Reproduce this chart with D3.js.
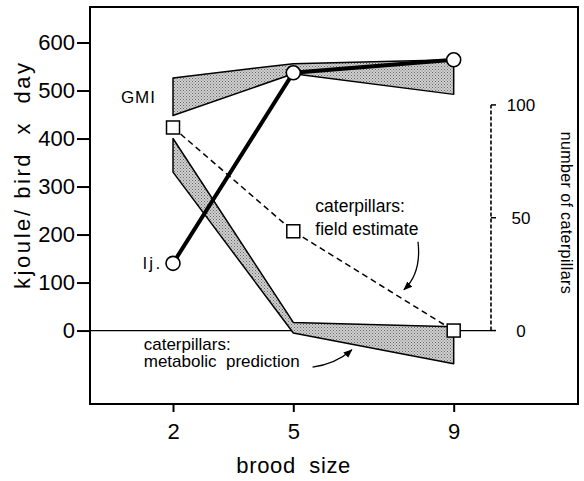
<!DOCTYPE html>
<html>
<head>
<meta charset="utf-8">
<script src="https://cdn.jsdelivr.net/npm/d3@7"></script>
<style>
  html, body { margin: 0; padding: 0; background: #fff; }
  svg { display: block; font-family: "Liberation Sans", Arial, Helvetica, sans-serif; }
</style>
</head>
<body>
<svg id="chart" width="584" height="481"></svg>
<script>
// ---------- data ----------
const broodSizes   = [2, 5, 9];
const ijValues     = [140, 537, 564];          // kJ/bird x day
const gmiUpper     = [526, 556, 564];
const gmiLower     = [448, 535, 492];
const metabUpper   = [400, 17, 8];
const metabLower   = [330, -5, -69];
const fieldEstimate = [90, 44, 0];             // number of caterpillars
const yTicks       = [0, 100, 200, 300, 400, 500, 600];
const xTicks       = [2, 5, 9];
const rightTicks   = [0, 50, 100];

// ---------- layout ----------
const svg = d3.select("#chart");
const frame = {left: 90, right: 578, top: 7, bottom: 404};
const x = d3.scaleLinear().domain([-0.07, 12.1]).range([frame.left, frame.right]);
const y = d3.scaleLinear().domain([-153, 674]).range([frame.bottom, frame.top]);
const y2 = d3.scaleLinear().domain([0, 100]).range([y(0), y(470)]);

const defs = svg.append("defs");
const pat = defs.append("pattern").attr("id", "stipple")
  .attr("width", 3).attr("height", 3).attr("patternUnits", "userSpaceOnUse");
pat.append("rect").attr("width", 3).attr("height", 3).attr("fill", "#d0d0d0");
pat.append("rect").attr("x", 0).attr("y", 0).attr("width", 1).attr("height", 1).attr("fill", "#666");
pat.append("rect").attr("x", 1.5).attr("y", 1.5).attr("width", 1).attr("height", 1).attr("fill", "#777");
defs.append("marker").attr("id", "arrow").attr("viewBox", "0 0 10 10")
  .attr("refX", 9).attr("refY", 5).attr("markerWidth", 9).attr("markerHeight", 9)
  .attr("markerUnits", "userSpaceOnUse").attr("orient", "auto")
  .append("path").attr("d", "M0,1 L10,5 L0,9 Z").attr("fill", "#000");

// frame
svg.append("rect")
  .attr("x", frame.left).attr("y", frame.top)
  .attr("width", frame.right - frame.left).attr("height", frame.bottom - frame.top)
  .attr("fill", "none").attr("stroke", "#000").attr("stroke-width", 2);

// left axis
const yAxis = svg.append("g").attr("transform", `translate(${frame.left},0)`)
  .call(d3.axisLeft(y).tickValues(yTicks).tickSize(13).tickPadding(2).tickFormat(d3.format("d")));
yAxis.select(".domain").remove();
yAxis.selectAll("line").attr("stroke", "#000").attr("stroke-width", 2);
yAxis.selectAll("text").attr("font-size", 22).attr("fill", "#000")
  .attr("font-family", "Liberation Sans, Arial, sans-serif");

// bottom axis
const xAxis = svg.append("g").attr("transform", `translate(0,${frame.bottom})`)
  .call(d3.axisBottom(x).tickValues(xTicks).tickSize(8).tickPadding(11).tickFormat(d3.format("d")));
xAxis.select(".domain").remove();
xAxis.selectAll("line").attr("stroke", "#000").attr("stroke-width", 2);
xAxis.selectAll("text").attr("font-size", 22).attr("fill", "#000")
  .attr("font-family", "Liberation Sans, Arial, sans-serif");

// zero line
svg.append("line")
  .attr("x1", frame.left).attr("x2", x(9.93))
  .attr("y1", y(0)).attr("y2", y(0))
  .attr("stroke", "#000").attr("stroke-width", 1.3);

// right dashed axis
const rx = x(9.93);
svg.append("line").attr("x1", rx).attr("x2", rx)
  .attr("y1", y2(0)).attr("y2", y2(100))
  .attr("stroke", "#000").attr("stroke-width", 1.6).attr("stroke-dasharray", "4,2");
svg.selectAll(".rtick").data(rightTicks).join("line")
  .attr("x1", rx).attr("x2", rx + 5)
  .attr("y1", d => y2(d)).attr("y2", d => y2(d))
  .attr("stroke", "#000").attr("stroke-width", 1.5);
svg.selectAll(".rlab").data(rightTicks).join("text")
  .attr("x", rx + 30).attr("y", d => y2(d)).attr("dy", "0.35em")
  .attr("text-anchor", "middle").attr("font-size", 17).text(d => d);

// bands
const band = (up, lo) => {
  const pts = broodSizes.map((b, i) => [x(b), y(up[i])])
    .concat(broodSizes.map((b, i) => [x(b), y(lo[i])]).reverse());
  return d3.line()(pts) + "Z";
};
svg.append("path").attr("d", band(gmiUpper, gmiLower))
  .attr("fill", "url(#stipple)").attr("stroke", "#000").attr("stroke-width", 1.5)
  .attr("stroke-linejoin", "round");
svg.append("path").attr("d", band(metabUpper, metabLower))
  .attr("fill", "url(#stipple)").attr("stroke", "#000").attr("stroke-width", 1.5)
  .attr("stroke-linejoin", "round");

// field estimate dashed line
const fe = broodSizes.map((b, i) => [x(b), y2(fieldEstimate[i])]);
svg.append("path").attr("d", d3.line()(fe))
  .attr("fill", "none").attr("stroke", "#000").attr("stroke-width", 1.5)
  .attr("stroke-dasharray", "6,4");

// Ij line
const ij = broodSizes.map((b, i) => [x(b), y(ijValues[i])]);
svg.append("path").attr("d", d3.line()(ij))
  .attr("fill", "none").attr("stroke", "#000").attr("stroke-width", 4);

// squares
svg.selectAll(".sq").data(fe).join("rect")
  .attr("x", d => d[0] - 6.5).attr("y", d => d[1] - 6.5)
  .attr("width", 13).attr("height", 13)
  .attr("fill", "#fff").attr("stroke", "#000").attr("stroke-width", 1.5);

// circles
svg.selectAll(".ci").data(ij).join("circle")
  .attr("cx", d => d[0]).attr("cy", d => d[1]).attr("r", 7)
  .attr("fill", "#fff").attr("stroke", "#000").attr("stroke-width", 1.6);

// labels
const txt = (xx, yy, s, size, anchor) => svg.append("text")
  .attr("x", xx).attr("y", yy).attr("font-size", size)
  .attr("text-anchor", anchor || "start").style("white-space", "pre").text(s);

txt(x(0.70), y(475), "GMI", 17).attr("letter-spacing", 1);
txt(x(1.25), y(140), "lj.", 17).attr("dy", "0.35em").attr("letter-spacing", 2.5);
txt(x(5.55), y(247), "caterpillars:", 17.5);
txt(x(5.55), y(199), "field estimate", 17.5);
txt(x(1.27), y(-40), "caterpillars:", 17);
txt(x(1.27), y(-76), "metabolic  prediction", 17);

// arrows
const p = d3.path();
p.moveTo(x(8.11), y(185));
p.quadraticCurveTo(x(8.2), y(120), x(7.76), y(85));
svg.append("path").attr("d", p.toString()).attr("fill", "none")
  .attr("stroke", "#000").attr("stroke-width", 1.3).attr("marker-end", "url(#arrow)");
const p2 = d3.path();
p2.moveTo(x(5.48), y(-76));
p2.quadraticCurveTo(x(6.05), y(-70), x(6.46), y(-40));
svg.append("path").attr("d", p2.toString()).attr("fill", "none")
  .attr("stroke", "#000").attr("stroke-width", 1.3).attr("marker-end", "url(#arrow)");

// axis titles
svg.append("text").attr("transform", `translate(30,${y(322)}) rotate(-90)`)
  .attr("text-anchor", "middle").attr("font-size", 22).style("white-space", "pre")
  .attr("textLength", 226).attr("lengthAdjust", "spacing")
  .text("kjoule/ bird  x  day");
svg.append("text").attr("x", x(5)).attr("y", 473)
  .attr("text-anchor", "middle").attr("font-size", 22).style("white-space", "pre")
  .attr("textLength", 114).attr("lengthAdjust", "spacing")
  .text("brood  size");
svg.append("text").attr("transform", `translate(561,${y2(50) - 5}) rotate(90)`)
  .attr("text-anchor", "middle").attr("font-size", 16)
  .attr("textLength", 162).attr("lengthAdjust", "spacing")
  .text("number of caterpillars");
</script>
</body>
</html>
